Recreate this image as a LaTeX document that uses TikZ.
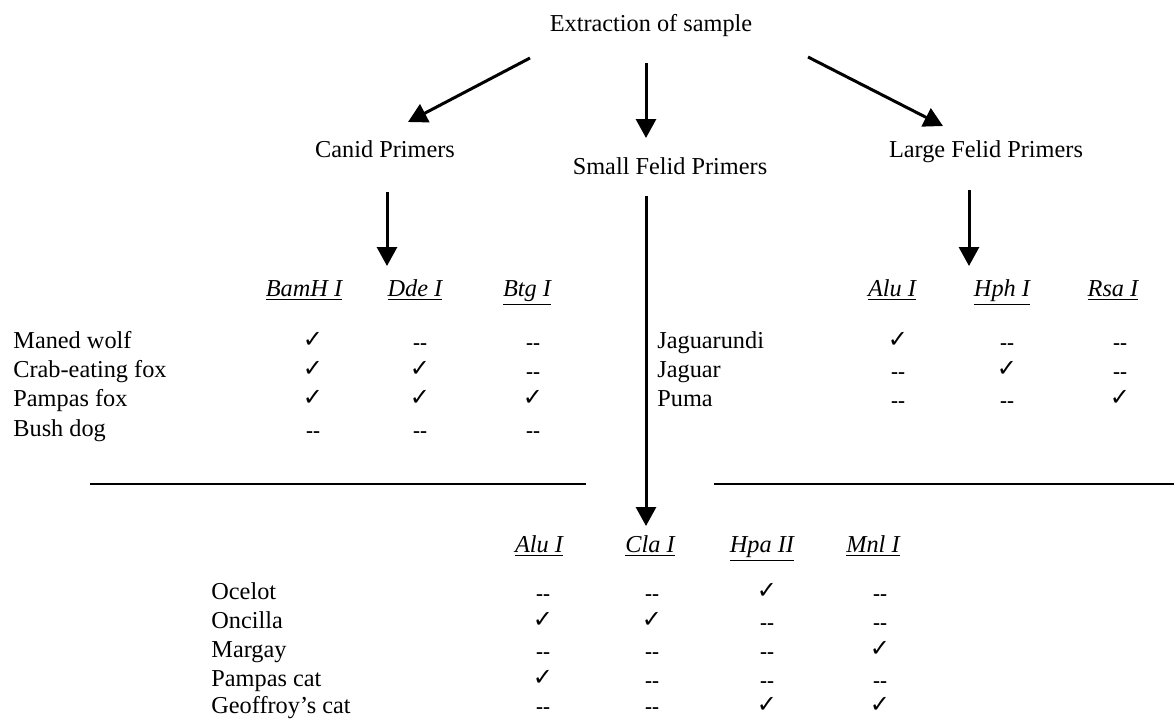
\documentclass[tikz,border=0pt]{standalone}
\usepackage{fontspec}
\setmainfont{Liberation Serif}
\newfontfamily\symfont{DejaVu Sans}
\usetikzlibrary{arrows.meta}
\newcommand{\yesmark}{{\symfont\fontsize{12}{14}\selectfont ✓}}
\newcommand{\nomark}{{\bfseries\fontsize{10.5}{12}\selectfont -{}-}}
\begin{document}
\begin{tikzpicture}[x=0.5pt,y=-0.5pt,
  every node/.style={inner sep=0pt, font=\fontsize{12.15}{14}\selectfont, text height=0.68em, text depth=0.2em},
  arr/.style={line width=1.5pt,-{Triangle[length=9.5pt,width=10pt]}},
  hrule/.style={line width=1.1pt},
  lbl/.style={anchor=west},
  hdr/.style={font=\fontsize{12.15}{14}\selectfont\itshape},
  yes/.style={text height=, text depth=},
  no/.style={text height=, text depth=}]
\useasboundingbox (0,0) rectangle (1174,720);

% top level
\node (ext) at (651,27) {Extraction of sample};
\node (canid) at (385,153) {Canid Primers};
\node (small) at (670,170) {Small Felid Primers};
\node (large) at (986,153) {Large Felid Primers};

\coordinate (l0) at (530,58);  \coordinate (l1) at (408,122);
\coordinate (m0) at (646,63);  \coordinate (m1) at (646,138);
\coordinate (r0) at (808,57);  \coordinate (r1) at (943,126);
\draw[arr] (l0) -- (l1);
\draw[arr] (m0) -- (m1);
\draw[arr] (r0) -- (r1);

\coordinate (c0) at (387,192); \coordinate (c1) at (387,266);
\coordinate (s0) at (646,196); \coordinate (s1) at (646,526);
\coordinate (g0) at (969,190); \coordinate (g1) at (969,266);
\draw[arr] (c0) -- (c1);
\draw[arr] (s0) -- (s1);
\draw[arr] (g0) -- (g1);

% horizontal rules
\coordinate (hl0) at (90,484);  \coordinate (hl1) at (586,484);
\coordinate (hr0) at (714,484); \coordinate (hr1) at (1174,484);
\draw[hrule] (hl0) -- (hl1);
\draw[hrule] (hr0) -- (hr1);

% canid table
\node[hdr] (hc1) at (304,292) {\underline{BamH I}};
\node[hdr] (hc2) at (415,292) {\underline{Dde I}};
\node[hdr] (hc3) at (527,292) {\underline{Btg I}};
\node[lbl] (cr1) at (13,344) {Maned wolf};
\node[lbl] (cr2) at (13,373) {Crab-eating fox};
\node[lbl] (cr3) at (13,402) {Pampas fox};
\node[lbl] (cr4) at (13,432) {Bush dog};
\node[yes] (c11) at (313,340) {\yesmark};
\node[no]  (c12) at (420,347) {\nomark};
\node[no]  (c13) at (533,347) {\nomark};
\node[yes] (c21) at (313,369) {\yesmark};
\node[yes] (c22) at (420,369) {\yesmark};
\node[no]  (c23) at (533,376) {\nomark};
\node[yes] (c31) at (313,398) {\yesmark};
\node[yes] (c32) at (420,398) {\yesmark};
\node[yes] (c33) at (533,398) {\yesmark};
\node[no]  (c41) at (313,435) {\nomark};
\node[no]  (c42) at (420,435) {\nomark};
\node[no]  (c43) at (533,435) {\nomark};

% large felid table
\node[hdr] (hl1n) at (892,292) {\underline{Alu I}};
\node[hdr] (hl2n) at (1002,292) {\underline{Hph I}};
\node[hdr] (hl3n) at (1113,292) {\underline{Rsa I}};
\node[lbl] (lr1) at (657,344) {Jaguarundi};
\node[lbl] (lr2) at (657,373) {Jaguar};
\node[lbl] (lr3) at (657,402) {Puma};
\node[yes] (l11) at (898,340) {\yesmark};
\node[no]  (l12) at (1007,347) {\nomark};
\node[no]  (l13) at (1120,347) {\nomark};
\node[no]  (l21) at (898,376) {\nomark};
\node[yes] (l22) at (1007,369) {\yesmark};
\node[no]  (l23) at (1120,376) {\nomark};
\node[no]  (l31) at (898,405) {\nomark};
\node[no]  (l32) at (1007,405) {\nomark};
\node[yes] (l33) at (1120,398) {\yesmark};

% small felid table
\node[hdr] (hs1) at (539,548) {\underline{Alu I}};
\node[hdr] (hs2) at (650,548) {\underline{Cla I}};
\node[hdr] (hs3) at (762,548) {\underline{Hpa II}};
\node[hdr] (hs4) at (873,548) {\underline{Mnl I}};
\node[lbl] (sr1) at (211,595) {Ocelot};
\node[lbl] (sr2) at (211,624) {Oncilla};
\node[lbl] (sr3) at (211,653) {Margay};
\node[lbl] (sr4) at (211,682) {Pampas cat};
\node[lbl] (sr5) at (211,709) {Geoffroy’s cat};
% Ocelot
\node[no]  (s11) at (543,598) {\nomark};
\node[no]  (s12) at (652,598) {\nomark};
\node[yes] (s13) at (767,591) {\yesmark};
\node[no]  (s14) at (880,598) {\nomark};
% Oncilla
\node[yes] (s21) at (543,620) {\yesmark};
\node[yes] (s22) at (652,620) {\yesmark};
\node[no]  (s23) at (767,627) {\nomark};
\node[no]  (s24) at (880,627) {\nomark};
% Margay
\node[no]  (s31) at (543,656) {\nomark};
\node[no]  (s32) at (652,656) {\nomark};
\node[no]  (s33) at (767,656) {\nomark};
\node[yes] (s34) at (880,649) {\yesmark};
% Pampas cat
\node[yes] (s41) at (543,678) {\yesmark};
\node[no]  (s42) at (652,685) {\nomark};
\node[no]  (s43) at (767,685) {\nomark};
\node[no]  (s44) at (880,685) {\nomark};
% Geoffroy's cat
\node[no]  (s51) at (543,711) {\nomark};
\node[no]  (s52) at (652,711) {\nomark};
\node[yes] (s53) at (767,705) {\yesmark};
\node[yes] (s54) at (880,705) {\yesmark};
\end{tikzpicture}
\end{document}
